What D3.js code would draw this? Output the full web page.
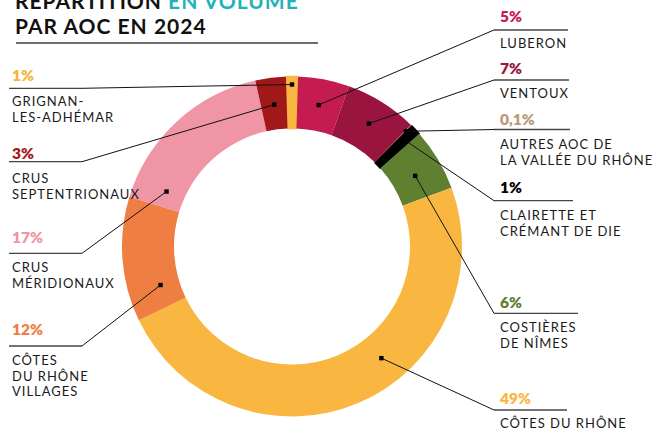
<!DOCTYPE html>
<html>
<head>
<meta charset="utf-8">
<script src="https://cdn.jsdelivr.net/npm/d3@7"></script>
<style>
  html, body { margin: 0; padding: 0; background: #fff; }
  svg { display: block; }
  text { font-family: Lato, "Noto Sans", sans-serif; }
</style>
</head>
<body>
<svg id="chart" width="658" height="430"></svg>
<script>
// ---- DATA ----
const categories = ["Luberon", "Ventoux", "Autres AOC de la Vallée du Rhône", "Clairette et Crémant de Die",
  "Costières de Nîmes", "Côtes du Rhône", "Côtes du Rhône Villages", "Crus méridionaux",
  "Crus septentrionaux", "Grignan-les-Adhémar"];
const values = [5, 7, 0.1, 1, 6, 49, 12, 17, 3, 1];
const valueLabels = ["5%", "7%", "0,1%", "1%", "6%", "49%", "12%", "17%", "3%", "1%"];
const nameLines = [["LUBERON"], ["VENTOUX"], ["AUTRES AOC DE", "LA VALLÉE DU RHÔNE"],
  ["CLAIRETTE ET", "CRÉMANT DE DIE"], ["COSTIÈRES", "DE NÎMES"], ["CÔTES DU RHÔNE"],
  ["CÔTES", "DU RHÔNE", "VILLAGES"], ["CRUS", "MÉRIDIONAUX"], ["CRUS", "SEPTENTRIONAUX"],
  ["GRIGNAN-", "LES-ADHÉMAR"]];
const titleLine1 = ["RÉPARTITION ", "EN VOLUME"];
const titleLine2 = "PAR AOC EN 2024";

// ---- STYLE / LAYOUT ----
const sliceColors = ["#C41B50", "#9A1440", "#CDB79E", "#000000", "#5E8030", "#F9B741",
  "#EF7E43", "#F095A6", "#A11818", "#F9B741"];
const pctColors = ["#C8194F", "#9A1441", "#B89A78", "#000000", "#5F8030", "#F9B740",
  "#EF7E43", "#F095A5", "#A3191C", "#F7B23B"];
// side, pct baseline, line y, first name baseline, line end x, dot fraction within slice, dot radius
const layout = [
  {side: "R", pctY: 22,  lineY: 30,  nameY: 48,  lineEnd: 568, frac: 0.5,  r: 144},
  {side: "R", pctY: 74,  lineY: 80,  nameY: 98,  lineEnd: 569, frac: 0.5,  r: 145},
  {side: "R", pctY: 125, lineY: 129.5, nameY: 149, lineEnd: 570, frac: 0.5, r: 162},
  {side: "R", pctY: 193, lineY: 200.7, nameY: 220, lineEnd: 573, frac: 0.5, r: 155},
  {side: "R", pctY: 308, lineY: 313.3, nameY: 332, lineEnd: 578, frac: 0.55, r: 142},
  {side: "R", pctY: 404, lineY: 410, nameY: 428, lineEnd: 567, frac: 0.41, r: 143},
  {side: "L", pctY: 335, lineY: 346, nameY: 365, lineEnd: 9,   frac: 0.22, r: 137},
  {side: "L", pctY: 243, lineY: 253.3, nameY: 272, lineEnd: 9, frac: 0.11, r: 137},
  {side: "L", pctY: 159, lineY: 161.7, nameY: 183, lineEnd: 9, frac: 0.5, r: 143},
  {side: "L", pctY: 81,  lineY: 88.3, nameY: 106, lineEnd: 9,  frac: 0.5,  r: 162}
];
const cx = 292, cy = 246.5, outerR = 170, innerR = 118;
const startOffset = 0.031;
const elbowR = 494, elbowL = 82, textR = 500, textL = 12;
const lineH = 15.5;

const svg = d3.select("#chart");

// Title
const t1 = svg.append("text").attr("x", 15).attr("y", 8.5)
  .attr("font-size", 21).attr("font-weight", 700).attr("letter-spacing", 1);
t1.append("tspan").attr("fill", "#111").text(titleLine1[0]);
t1.append("tspan").attr("fill", "#1FB3B9").text(titleLine1[1]);
svg.append("text").attr("x", 15).attr("y", 33.5)
  .attr("font-size", 21).attr("font-weight", 700).attr("letter-spacing", 1)
  .attr("fill", "#111").text(titleLine2);
svg.append("line").attr("x1", 16).attr("x2", 318).attr("y1", 43).attr("y2", 43)
  .attr("stroke", "#3c3c3c").attr("stroke-width", 1.5);

// Donut
const pie = d3.pie().sort(null).value(d => d)
  .startAngle(startOffset).endAngle(startOffset + 2 * Math.PI);
const arcs = pie(values);
const arc = d3.arc().innerRadius(innerR).outerRadius(outerR);
const g = svg.append("g").attr("transform", `translate(${cx},${cy})`);
g.selectAll("path.slice").data(arcs).enter().append("path")
  .attr("class", "slice")
  .attr("d", arc)
  .attr("fill", (d, i) => sliceColors[i])
  .attr("stroke", (d, i) => values[i] < 2 ? sliceColors[i] : "none")
  .attr("stroke-width", (d, i) => values[i] < 0.5 ? 1 : 1.6);

// Leaders and labels
arcs.forEach((d, i) => {
  const L = layout[i];
  const a = d.startAngle + L.frac * (d.endAngle - d.startAngle);
  const px = cx + L.r * Math.sin(a), py = cy - L.r * Math.cos(a);
  const ex = L.side === "R" ? elbowR : elbowL;
  svg.append("line").attr("x1", px).attr("y1", py).attr("x2", ex).attr("y2", L.lineY)
    .attr("stroke", "#111").attr("stroke-width", 1);
  svg.append("line").attr("x1", ex).attr("y1", L.lineY).attr("x2", L.lineEnd).attr("y2", L.lineY)
    .attr("stroke", "#444").attr("stroke-width", 1.3);
  svg.append("rect").attr("x", px - 2.2).attr("y", py - 2.2).attr("width", 4.4).attr("height", 4.4)
    .attr("fill", "#000");
  const tx = L.side === "R" ? textR : textL;
  svg.append("text").attr("x", tx).attr("y", L.pctY)
    .attr("font-size", 15.5).attr("font-weight", 800).attr("fill", pctColors[i])
    .text(valueLabels[i]);
  nameLines[i].forEach((ln, k) => {
    svg.append("text").attr("x", tx).attr("y", L.nameY + k * lineH)
      .attr("font-size", 13).attr("letter-spacing", 1).attr("fill", "#1a1a1a")
      .text(ln);
  });
});
</script>
</body>
</html>
